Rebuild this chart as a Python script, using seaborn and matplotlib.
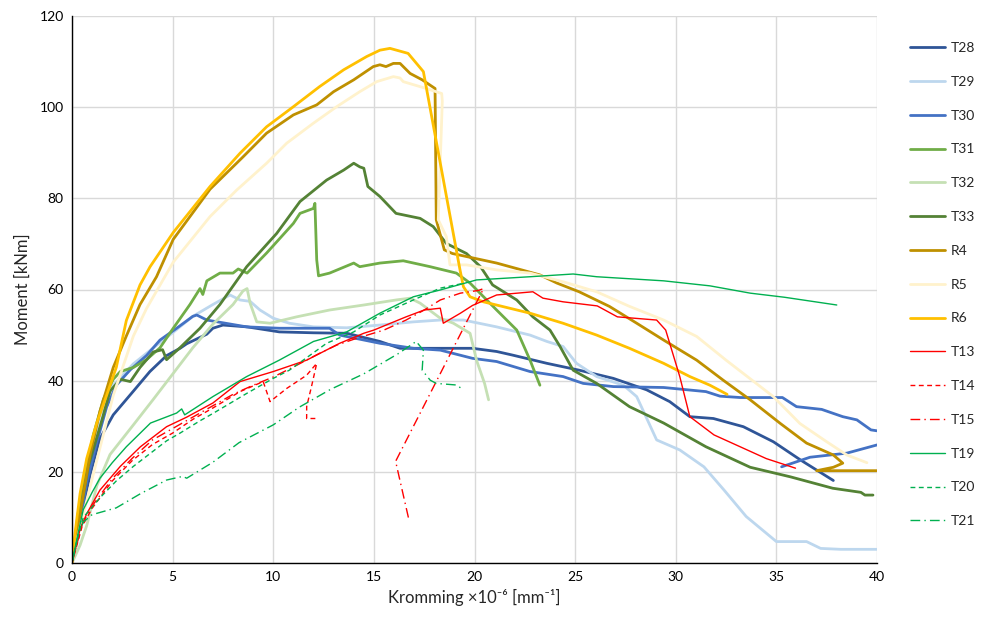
import matplotlib
matplotlib.use("Agg")
import matplotlib.pyplot as plt
import seaborn as sns
import numpy as np

# ---------------- data ----------------
T28_x = [0, 0.48, 0.9, 1.39, 2.05, 3.05, 3.87, 4.7, 5.37, 5.7, 6.7, 7.0, 7.5, 8.7, 10.3, 12.0, 13.65, 15.3, 16.3, 18.3,
         19.9, 21.1, 21.9, 23.6, 25.2, 26.9, 28.55, 29.7, 30.7, 31.87, 33.36, 34.85, 36.2, 37.83]
T28_y = [0, 10.8, 19.5, 27.3, 32.5, 37.7, 42.0, 45.5, 47.1, 48.1, 50.2, 51.5, 52.2, 51.8, 50.7, 50.5, 50.4, 48.6, 47.1, 47.1,
         47.1, 46.4, 45.6, 43.8, 42.3, 40.5, 38.0, 35.4, 32.1, 31.7, 29.9, 26.6, 22.6, 18.1]

T29_x = [0, 0.4, 0.81, 1.39, 2.05, 3.05, 4.04, 5.03, 6.0, 7.0, 7.85, 8.35, 8.85, 9.34, 10.0, 10.8, 12.0, 13.65, 15.3, 16.96,
         18.3, 19.45, 21.1, 22.76, 23.6, 24.4, 25.07, 26.07, 27.4, 28.06, 29.05, 30.2, 31.4, 32.4, 33.5, 35.0, 36.5,
         37.2, 38.2, 40.0]
T29_y = [0, 10.8, 22.1, 32.5, 39.0, 43.7, 47.2, 50.6, 54.1, 56.7, 58.8, 57.7, 57.4, 55.5, 53.7, 52.6, 51.8, 51.6, 52.2, 52.9,
         53.3, 53.3, 51.8, 50.0, 48.6, 47.5, 43.8, 40.9, 39.0, 36.5, 27.0, 24.8, 21.1, 16.0, 10.2, 4.7, 4.7,
         3.2, 3.0, 3.0]

T30_x = [0, 0.4, 0.73, 1.23, 1.72, 2.2, 2.9, 3.7, 4.37, 5.2, 6.0, 6.2, 6.7, 8.68, 10.3, 12.8, 13.3, 15.3, 16.96, 18.3,
         19.9, 21.1, 22.76, 24.4, 25.4, 26.9, 29.4, 31.5, 32.2, 33.2, 35.3, 36.0, 37.25, 38.3, 39.0, 39.7, 40.0]
T30_y = [0, 9.1, 17.7, 26.4, 34.2, 39.0, 42.4, 45.5, 48.9, 51.5, 54.1, 54.4, 53.3, 51.8, 51.5, 51.5, 50.0, 48.2, 47.1, 46.7,
         44.9, 44.2, 42.0, 40.9, 39.4, 38.7, 38.5, 37.6, 36.6, 36.3, 36.3, 34.3, 33.7, 32.1, 31.4, 29.2, 29.0]
T30b_x = [35.26, 36.67, 38.5, 40.0]
T30b_y = [21.1, 23.2, 24.1, 25.9]

T31_x = [0, 0.3, 0.65, 1.06, 1.56, 2.05, 2.4, 3.05, 3.7, 4.37, 5.03, 5.86, 6.36, 6.5, 6.7, 7.35, 8.0, 8.26, 8.7, 9.67,
         11.0, 11.33, 12.0, 12.07, 12.12, 12.16, 12.25, 12.8, 14.0, 14.3, 15.3, 16.46, 17.8, 19.1, 19.78, 21.1, 22.1,
         22.76, 23.25]
T31_y = [0, 10.8, 19.5, 28.1, 35.9, 40.3, 42.0, 42.9, 44.6, 47.2, 51.5, 56.7, 60.2, 58.9, 61.9, 63.6, 63.6, 64.5, 63.6, 68.0,
         74.5, 76.7, 77.8, 78.9, 72.0, 66.5, 63.0, 63.6, 65.8, 65.0, 65.8, 66.3, 65.0, 63.6, 61.4, 55.5, 51.1,
         44.5, 39.0]

T32_x = [0, 0.4, 0.73, 1.23, 1.89, 3.05, 4.04, 5.03, 6.0, 7.0, 8.0, 8.5, 8.7, 8.85, 9.18, 9.84, 11.16, 12.8, 14.5, 16.1,
         16.8, 17.3, 18.3, 18.95, 19.78, 20.1, 20.5, 20.7]
T32_y = [0, 3.9, 8.2, 16.9, 23.8, 30.3, 35.9, 41.6, 47.2, 52.4, 56.7, 59.7, 60.2, 57.0, 52.9, 52.6, 54.0, 55.5, 56.6, 57.7,
         58.1, 57.0, 53.7, 52.6, 50.4, 44.5, 39.4, 35.8]

T33_x = [0, 0.4, 0.81, 1.39, 1.89, 2.3, 2.4, 2.9, 3.38, 4.04, 4.5, 4.7, 5.36, 6.36, 7.35, 8.68, 10.17, 11.33, 12.65, 13.5,
         14.0, 14.3, 14.5, 14.7, 15.3, 16.1, 17.3, 17.95, 18.6, 19.6, 20.3, 20.9, 22.1, 22.9, 23.75, 24.25, 24.9,
         26.07, 27.7, 29.4, 31.5, 33.7, 35.7, 37.8, 39.2, 39.4, 39.8]
T33_y = [0, 10.8, 21.2, 29.9, 37.7, 39.8, 40.3, 39.8, 42.9, 46.3, 46.8, 44.6, 47.2, 51.5, 56.7, 65.0, 72.3, 79.3, 84.0, 86.2,
         87.7, 86.9, 86.6, 82.6, 80.4, 76.7, 75.6, 73.8, 70.1, 67.9, 65.0, 61.0, 57.7, 54.0, 51.1, 47.5, 42.3,
         39.4, 34.3, 30.7, 25.5, 21.0, 18.9, 16.4, 15.5, 14.9, 14.9]

R4_x = [0, 0.4, 0.9, 1.39, 2.05, 2.7, 3.38, 4.2, 5.03, 6.86, 8.5, 9.67, 11.0, 12.16, 13.0, 14.0, 14.97, 15.3, 15.6, 15.97,
        16.3, 16.8, 17.4, 18.04, 18.1, 18.5, 18.9, 21.1, 23.25, 24.1, 25.2, 26.7, 28.06, 29.4, 31.04, 32.36, 33.7,
        35.2, 36.5, 37.83, 38.3, 37.83, 37.0, 40.0]
R4_y = [0, 10.8, 23.8, 33.3, 42.9, 49.8, 56.7, 62.8, 71.0, 82.0, 89.1, 94.3, 98.3, 100.5, 103.4, 106.0, 108.9, 109.3, 108.9, 109.6,
        109.6, 107.4, 106.0, 104.1, 75.3, 68.7, 67.9, 65.8, 63.2, 61.4, 59.5, 56.3, 52.6, 48.9, 44.5, 40.1, 35.8,
        30.6, 26.3, 23.7, 21.9, 21.0, 20.25, 20.25]

R5_x = [0, 0.23, 1.06, 2.05, 3.05, 3.7, 5.03, 6.86, 8.18, 9.67, 10.67, 12.0, 13.15, 14.3, 15.14, 15.97, 16.3, 16.46, 17.6,
        18.37, 18.4, 18.2, 18.6, 18.78, 19.6, 21.1, 22.76, 24.4, 26.07, 27.7, 29.4, 31.04, 32.5, 34.85, 36.17, 37.5,
        38.5, 39.5]
R5_y = [0, 4.8, 19.5, 36.8, 49.8, 55.8, 66.0, 76.0, 81.8, 87.7, 92.1, 96.5, 100.1, 103.4, 105.6, 106.7, 106.4, 105.6, 104.1,
        103.0, 101.3, 75.3, 71.6, 65.4, 65.4, 64.3, 63.6, 61.7, 59.5, 56.3, 53.3, 49.7, 44.5, 36.5, 30.6, 26.6,
        23.7, 22.0]

R6_x = [0, 0.15, 0.4, 0.73, 1.23, 1.72, 2.2, 2.7, 3.38, 3.88, 5.03, 6.86, 8.35, 9.67, 11.0, 12.3, 13.5, 14.64, 15.3, 15.8,
        16.7, 17.46, 19.28, 19.45, 19.78, 20.44, 22.76, 24.4, 26.07, 27.7, 29.4, 30.7, 31.7, 32.55]
R6_y = [0, 6.5, 15.2, 22.9, 30.7, 36.8, 42.9, 53.2, 61.0, 65.0, 72.5, 82.6, 89.9, 95.7, 100.1, 104.5, 108.2, 111.1, 112.5, 112.9,
        111.8, 107.8, 64.3, 60.6, 58.4, 57.3, 54.8, 52.6, 50.0, 47.1, 43.8, 40.9, 39.0, 37.0]

T13_x = [0, 0.4, 0.73, 1.39, 2.4, 3.4, 4.7, 5.7, 7.0, 8.35, 10.0, 11.66, 13.3, 14.5, 15.0, 16.6, 17.5, 18.3, 18.45, 19.3,
         19.9, 21.1, 22.9, 23.4, 24.4, 26.1, 27.1, 29.05, 29.5, 30.2, 30.7, 31.9, 33.2, 34.5, 35.95]
T13_y = [0, 7.4, 10.8, 16.0, 21.2, 25.5, 29.9, 32.0, 35.1, 39.8, 42.0, 44.5, 48.2, 50.4, 51.1, 54.0, 55.5, 55.9, 52.6, 54.8,
         56.5, 58.8, 59.5, 58.1, 57.3, 56.4, 54.0, 53.3, 51.1, 40.9, 32.1, 28.1, 25.5, 22.9, 20.8]

T14_x = [0, 0.5, 1.0, 1.5, 2.0, 3.0, 4.0, 5.0, 6.0, 7.0, 8.35, 9.5, 9.84, 10.67, 11.66, 12.16, 11.9, 11.66, 11.66, 12.24]
T14_y = [0, 8.0, 12.0, 15.0, 18.0, 22.5, 26.0, 28.5, 31.5, 34.0, 37.6, 39.8, 35.4, 38.3, 41.2, 43.8, 38.7, 34.3, 31.7, 31.7]

T15_x = [0, 0.5, 1.0, 1.5, 2.0, 3.0, 4.0, 5.0, 6.0, 7.0, 8.0, 9.0, 10.0, 11.0, 12.3, 13.15, 14.15, 15.5, 16.6, 17.5,
         18.3, 19.3, 20.2, 20.45, 16.08, 16.74]
T15_y = [0, 8.5, 12.5, 15.5, 18.5, 23.0, 27.0, 29.5, 32.0, 34.5, 37.0, 39.0, 40.8, 43.0, 46.0, 47.8, 49.3, 51.1, 53.3, 55.5,
         57.7, 59.2, 59.8, 60.2, 22.3, 9.5]

T19_x = [0, 0.3, 0.56, 1.0, 1.39, 2.0, 2.7, 3.9, 5.2, 5.45, 5.6, 7.0, 8.68, 10.3, 12.0, 13.65, 15.3, 16.96, 18.3, 20.1,
         22.76, 24.9, 26.07, 29.4, 31.7, 33.7, 35.4, 38.0]
T19_y = [0, 6.5, 11.7, 15.5, 18.6, 22.0, 25.5, 30.7, 32.9, 33.8, 32.5, 36.5, 40.9, 44.5, 48.6, 50.7, 54.8, 58.4, 59.9, 62.1,
         62.8, 63.4, 62.8, 61.9, 60.8, 59.2, 58.3, 56.6]

T20_x = [0, 0.3, 0.56, 1.39, 2.2, 3.05, 4.7, 5.37, 6.36, 7.0, 8.68, 10.0, 10.8, 12.65, 14.0, 15.3, 16.96, 18.3, 19.5]
T20_y = [0, 6.0, 10.0, 14.3, 18.0, 21.2, 26.8, 28.5, 31.2, 32.8, 37.2, 40.5, 42.3, 48.2, 50.7, 54.4, 57.7, 60.3, 61.4]

T21_x = [0, 0.3, 0.56, 1.0, 2.2, 3.4, 4.7, 5.5, 5.7, 7.0, 8.3, 10.0, 11.3, 12.85, 14.5, 16.2, 17.1, 17.46, 17.4, 17.8,
         18.1, 19.1, 19.45]
T21_y = [0, 6.0, 9.0, 10.6, 12.1, 15.2, 18.2, 19.0, 18.6, 22.1, 26.4, 30.3, 34.2, 38.1, 41.5, 45.9, 48.6, 46.7, 42.3, 40.1,
         39.4, 39.05, 38.0]

series_names = ["T28", "T29", "T30", "T31", "T32", "T33", "R4", "R5", "R6",
                "T13", "T14", "T15", "T19", "T20", "T21"]
series_x = [T28_x, T29_x, T30_x, T31_x, T32_x, T33_x, R4_x, R5_x, R6_x,
            T13_x, T14_x, T15_x, T19_x, T20_x, T21_x]
series_y = [T28_y, T29_y, T30_y, T31_y, T32_y, T33_y, R4_y, R5_y, R6_y,
            T13_y, T14_y, T15_y, T19_y, T20_y, T21_y]

# ---------------- styles ----------------
colors = ["#2F5597", "#BDD7EE", "#4472C4", "#70AD47", "#C5E0B4", "#548235", "#BF9000", "#FFF2CC", "#FFC000",
          "#FF0000", "#FF0000", "#FF0000", "#00B050", "#00B050", "#00B050"]
thick = 2.0
thin = 1.0
widths = [thick] * 9 + [thin] * 6
dash = (0, (3.5, 2.5))
dashdot = (0, (7, 3, 1, 3))
styles = ["-"] * 9 + ["-", dash, dashdot, "-", dash, dashdot]

sns.set_theme(style="whitegrid")
plt.rcParams["font.family"] = ["Lato", "DejaVu Sans"]

fig = plt.figure(figsize=(9.83, 6.19), dpi=100)
ax = fig.add_axes([72 / 983, 1 - 563 / 619, (877 - 72) / 983, (563 - 16) / 619])

for name, xs, ys, c, w, ls in zip(series_names, series_x, series_y, colors, widths, styles):
    sns.lineplot(x=xs, y=ys, sort=False, estimator=None, color=c, linewidth=w, linestyle=ls,
                 label=name, ax=ax)
    if name == "T30":
        sns.lineplot(x=T30b_x, y=T30b_y, sort=False, estimator=None, color=c, linewidth=w,
                     linestyle=ls, ax=ax, legend=False)

ax.set_xlim(0, 40)
ax.set_ylim(0, 120)
ax.set_xticks(np.arange(0, 41, 5))
ax.set_yticks(np.arange(0, 121, 20))
ax.set_facecolor("white")
ax.grid(True, color="#D9D9D9", linewidth=1.0)
ax.tick_params(axis="both", length=0, labelsize=10, colors="#000000", pad=6)
for s in ["top", "right"]:
    ax.spines[s].set_visible(False)
for s in ["left", "bottom"]:
    ax.spines[s].set_visible(True)
    ax.spines[s].set_color("#000000")
    ax.spines[s].set_linewidth(1.0)

ax.set_xlabel("Kromming ×10⁻⁶ [mm⁻¹]", fontsize=12, labelpad=4)
ax.set_ylabel("Moment [kNm]", fontsize=12, labelpad=6)

handles, labels = ax.get_legend_handles_labels()
leg = ax.legend(handles, labels, loc="upper left", bbox_to_anchor=(910 / 983, 1 - 42 / 619),
                bbox_transform=fig.transFigure, frameon=False, fontsize=10,
                handlelength=2.5, handletextpad=0.4, labelspacing=1.57,
                borderpad=0, borderaxespad=0)

fig.savefig("out.png", dpi=100, facecolor="white")
